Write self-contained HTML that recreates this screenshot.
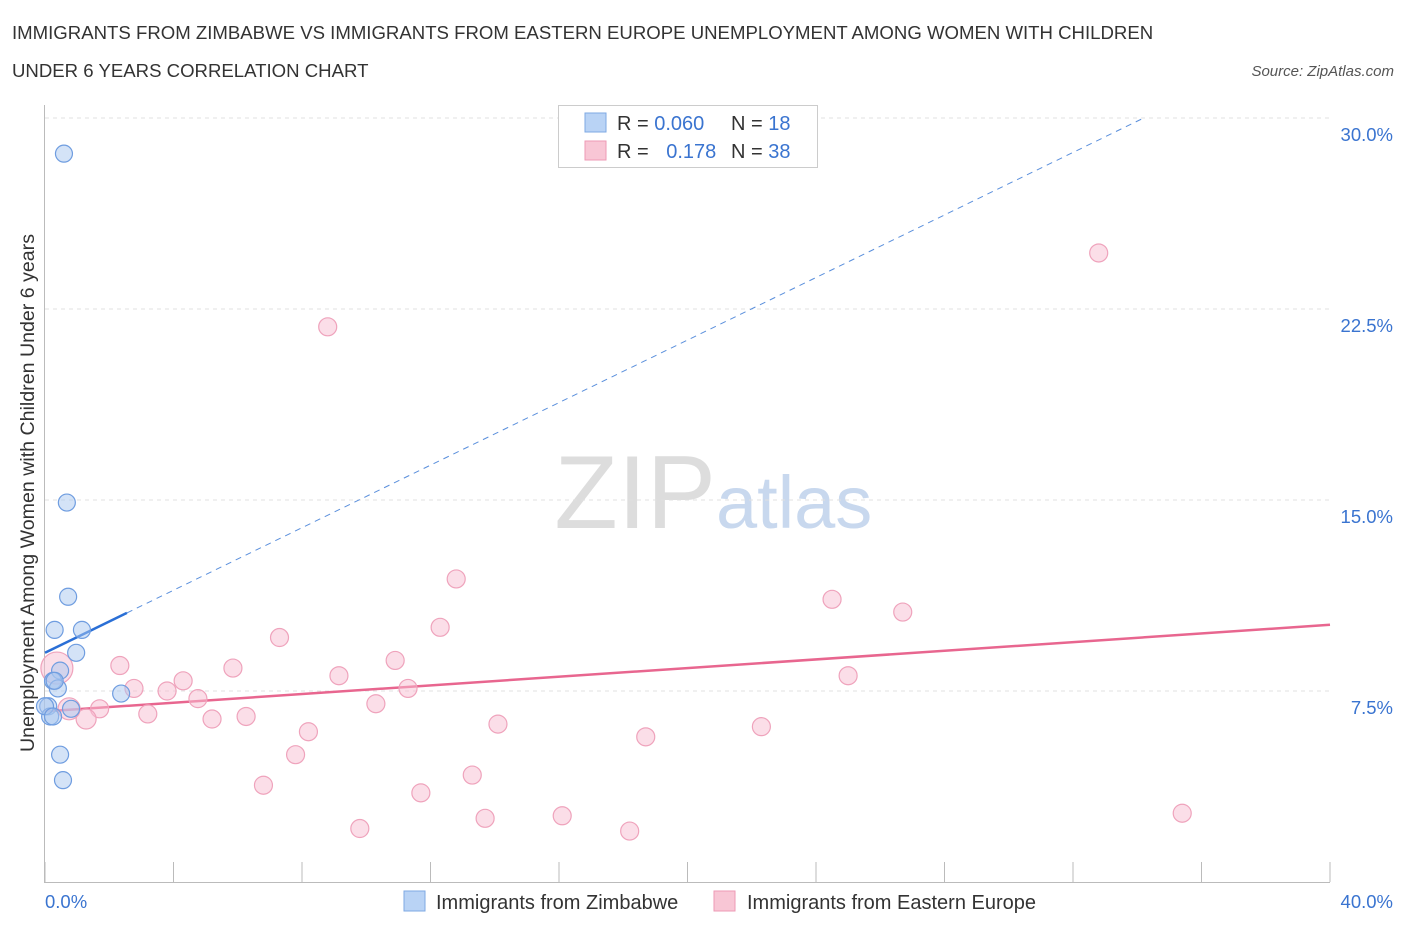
<!DOCTYPE html>
<html><head><meta charset="utf-8"><style>
body{margin:0;background:#fff;font-family:"Liberation Sans",sans-serif;}
svg text{font-family:"Liberation Sans",sans-serif;}
</style></head><body>
<svg id="chart" width="1406" height="930" xmlns="http://www.w3.org/2000/svg">
<text x="12" y="39" font-size="18.6" fill="#333">IMMIGRANTS FROM ZIMBABWE VS IMMIGRANTS FROM EASTERN EUROPE UNEMPLOYMENT AMONG WOMEN WITH CHILDREN</text>
<text x="12" y="77" font-size="18.6" fill="#333">UNDER 6 YEARS CORRELATION CHART</text>
<text x="1394" y="76" font-size="15" font-style="italic" fill="#555" text-anchor="end">Source: ZipAtlas.com</text>
<text x="716" y="528" font-size="104" font-family="Liberation Serif" fill="#ddd" text-anchor="end">ZIP</text>
<text x="716" y="528" font-size="74" fill="#c8d8ee">atlas</text>
<text transform="translate(34,493) rotate(-90)" font-size="19.6" fill="#333" text-anchor="middle">Unemployment Among Women with Children Under 6 years</text>
<g id="grid"></g><g id="axes"></g><g id="lines"></g><g id="pts"></g>
<g>
<rect x="558.5" y="105.5" width="259" height="62" fill="#fff" stroke="#ccc"/>
<rect x="585" y="113" width="21" height="19" fill="#b9d3f5" stroke="#7ea8e3"/>
<rect x="585" y="141" width="21" height="19" fill="#f8c6d5" stroke="#ee9ab5"/>
<text x="617" y="130" font-size="20" fill="#333">R = <tspan fill="#3a74d0">0.060</tspan></text>
<text x="731" y="130" font-size="20" fill="#333">N = <tspan fill="#3a74d0"> 18</tspan></text>
<text x="617" y="158" font-size="20" fill="#333">R = <tspan fill="#3a74d0" dx="12">0.178</tspan></text>
<text x="731" y="158" font-size="20" fill="#333">N = <tspan fill="#3a74d0">38</tspan></text>
</g>
<g>
<rect x="404" y="891" width="21" height="20" fill="#b9d3f5" stroke="#7ea8e3"/>
<text x="436" y="909" font-size="20" fill="#333">Immigrants from Zimbabwe</text>
<rect x="714" y="891" width="21" height="20" fill="#f8c6d5" stroke="#ee9ab5"/>
<text x="747" y="909" font-size="20" fill="#333">Immigrants from Eastern Europe</text>
</g>
</svg>
<script>
const yTicks=[7.5,15,22.5,30];
const yTickLabels=["7.5%","15.0%","22.5%","30.0%"];
const blueX=[0.59,0.68,0.72,0.3,1.15,0.97,0.47,0.25,0.4,2.37,0.81,0.1,0.16,0.47,0.56,0.0,0.3,0.25];
const blueY=[28.6,14.9,11.2,9.9,9.9,9.0,8.3,7.9,7.6,7.4,6.8,6.9,6.5,5.0,4.0,6.9,7.9,6.5];
const pinkX=[8.8,32.8,12.8,24.5,26.7,7.3,12.3,10.9,5.85,2.33,9.15,25.0,4.3,2.77,3.8,4.76,11.3,10.3,1.7,3.2,5.2,6.26,1.28,0.75,0.37,14.1,22.3,8.2,18.7,7.8,13.3,6.8,11.7,35.4,16.1,13.7,9.8,18.2];
const pinkY=[21.8,24.7,11.9,11.1,10.6,9.6,10.0,8.7,8.4,8.5,8.1,8.1,7.9,7.6,7.5,7.2,7.6,7.0,6.8,6.6,6.4,6.5,6.4,6.8,8.4,6.2,6.1,5.9,5.7,5.0,4.2,3.8,3.5,2.7,2.6,2.5,2.1,2.0];
const pinkR=[9,9,9,9,9,9,9,9,9,9,9,9,9,9,9,9,9,9,9,9,9,9,10,11,16,9,9,9,9,9,9,9,9,9,9,9,9,9];
const pinkTrend=[6.7,10.1];
const blueTrend=[9.0,0.614];
const NS="http://www.w3.org/2000/svg";
const X=v=>45+v/40*1285, Y=v=>882-v*191/7.5;
function mk(tag,attrs,parent){const e=document.createElementNS(NS,tag);for(const k in attrs)e.setAttribute(k,attrs[k]);document.getElementById(parent).appendChild(e);return e;}
yTicks.forEach((t,i)=>{
 const g=mk('line',{x1:45,x2:1330,y1:Y(t),y2:Y(t),stroke:'#e0e0e0','stroke-dasharray':'4,4'},'grid');
 
 
 const l=mk('text',{x:1393,y:Y(t)+23,'font-size':18.5,fill:'#3a74d0','text-anchor':'end'},'grid');
 l.textContent=yTickLabels[i];
 
 
});
const ax=mk('line',{x1:45,x2:1330,y1:882.5,y2:882.5,stroke:'#bbb'},'axes');


const ay=mk('line',{x1:44.5,x2:44.5,y1:105,y2:883,stroke:'#bbb'},'axes');


for(let i=0;i<=10;i++){const t=mk('line',{x1:X(i*4),x2:X(i*4),y1:862,y2:882,stroke:'#bbb'},'axes');
 
 }
const x0=mk('text',{x:45,y:908,'font-size':18.5,fill:'#3a74d0'},'axes');x0.textContent='0.0%';


const x1=mk('text',{x:1393,y:908,'font-size':18.5,fill:'#3a74d0','text-anchor':'end'},'axes');x1.textContent='40.0%';


pinkX.forEach((x,i)=>{const c=mk('circle',{cx:X(x),cy:Y(pinkY[i]),r:pinkR[i],fill:'rgba(248,190,210,0.5)',stroke:'#efa3bc','stroke-width':1.2},'pts');
 
 });
blueX.forEach((x,i)=>{const c=mk('circle',{cx:X(x),cy:Y(blueY[i]),r:8.5,fill:'rgba(170,200,240,0.5)',stroke:'#6f9de0','stroke-width':1.2},'pts');
 
 });
const pl=mk('line',{x1:X(0),y1:Y(pinkTrend[0]),x2:X(40),y2:Y(pinkTrend[1]),stroke:'#e8668f','stroke-width':2.5},'lines');


const bs=mk('line',{x1:X(0),y1:Y(blueTrend[0]),x2:X(2.55),y2:Y(blueTrend[0]+blueTrend[1]*2.55),stroke:'#2a6fd6','stroke-width':2.5},'lines');


const xe=(30-blueTrend[0])/blueTrend[1];
const bd=mk('line',{x1:X(2.55),y1:Y(blueTrend[0]+blueTrend[1]*2.55),x2:X(xe),y2:Y(30),stroke:'#5a8fdc','stroke-width':1,'stroke-dasharray':'6,5'},'lines');


</script>
</body></html>
